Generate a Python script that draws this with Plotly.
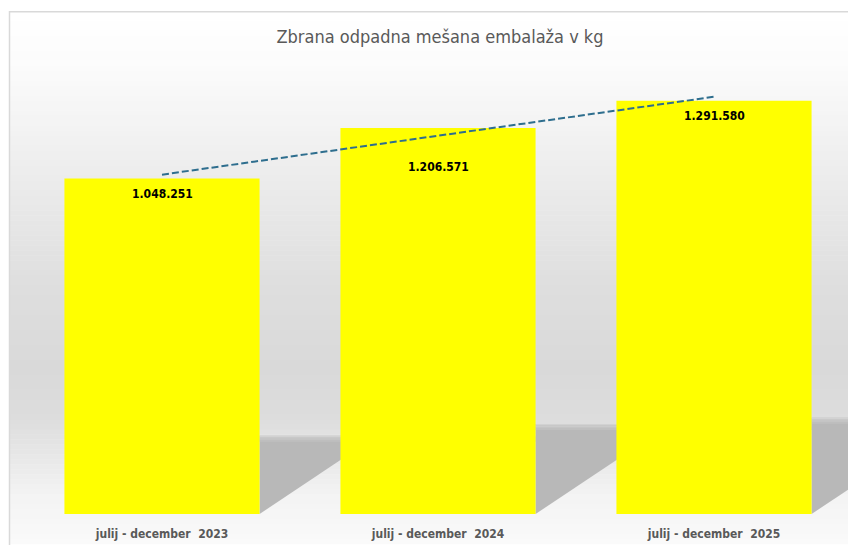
import numpy as np
import plotly.graph_objects as go

# ---- data ----
categories = ["julij - december\u00a0\u00a02023", "julij - december\u00a0\u00a02024", "julij - december\u00a0\u00a02025"]
values = [1048251, 1206571, 1291580]
title_text = "Zbrana odpadna mešana embalaža v kg"
label_shift_px = [-15, -39, -15]  # label offsets below bar tops (styling)

x_pos = np.arange(1, len(values) + 1)
slope, intercept = np.polyfit(x_pos, values, 1)
trend_x = [x_pos[0], x_pos[-1]]
trend_y = [slope * x + intercept for x in trend_x]

OFF = 8  # page body margin
W, H = 856 - OFF, 545 - OFF
ml, mr, mt, mb = 24 - OFF, 4, 66 - OFF, 29
plot_h = H - mt - mb
y_max = 1400000
FONT = "DejaVu Sans Condensed, Roboto, sans-serif"

fig = go.Figure()

fig.add_trace(go.Bar(
    x=x_pos, y=values,
    marker=dict(color="#FFFF00", line=dict(width=0)),
    hoverinfo="skip",
))

fig.add_trace(go.Scatter(
    x=trend_x, y=trend_y, mode="lines",
    line=dict(color="#2E6E8E", width=2, dash="7px,3px"),
    hoverinfo="skip",
))

annotations = []
for xc, v, s in zip(x_pos, values, label_shift_px):
    annotations.append(dict(x=xc, y=v, xref="x", yref="y", yshift=s, showarrow=False,
                            text=f"{v:,}".replace(",", "."), yanchor="middle",
                            font=dict(family=FONT, size=12, color="#000000", weight="bold")))

shapes = []
# background gradient (decorative)
stops = [(11, 255), (60, 252), (120, 244), (200, 233), (290, 222), (370, 217), (420, 221), (460, 232), (500, 244), (545, 250)]
def grey_at(y):
    for (y0, g0), (y1, g1) in zip(stops[:-1], stops[1:]):
        if y0 <= y <= y1:
            t = (y - y0) / (y1 - y0)
            return g0 + (g1 - g0) * t
    return stops[-1][1]

def py_to_paper(py):
    return (H - mb - (py - OFF)) / plot_h

def px_to_paper(px):
    return (px - OFF - ml) / (W - ml - mr)

step = 5
for y in range(11, 545, step):
    g = int(round(grey_at(y + step / 2)))
    shapes.append(dict(type="rect", xref="paper", yref="paper",
                       x0=px_to_paper(10), x1=px_to_paper(900),
                       y0=py_to_paper(y + step + 0.5), y1=py_to_paper(y),
                       fillcolor=f"rgb({g},{g},{g})", line=dict(width=0), layer="below"))

# floor shadows of bars (decorative, derived from values)
bar_w = 0.707
px_per_cat = (W - ml - mr) / 3.0
px_per_val = plot_h / y_max
edge_greys = ["#D2D2D2", "#CBCBCB", "#C4C4C4", "#BFBFBF"]
for xc, v in zip(x_pos, values):
    h = 0.233 * v
    xr = xc + bar_w / 2
    dx = (h * px_per_val / 0.67) / px_per_cat
    shapes.append(dict(type="path", xref="x", yref="y",
                       path=f"M {xr},0 L {xr},{h} L {xr + dx},{h} Z",
                       fillcolor="#B8B8B8", line=dict(width=0), layer="below"))
    step_v = 1.5 / px_per_val
    for i, c in enumerate(edge_greys):
        shapes.append(dict(type="rect", xref="x", yref="y",
                           x0=xr, x1=xr + 1.0, y0=h - (i + 1) * step_v, y1=h - i * step_v,
                           fillcolor=c, line=dict(width=0), layer="below"))

# chart border (cropped at right/bottom)
shapes.append(dict(type="rect", xref="paper", yref="paper",
                   x0=px_to_paper(9.5), x1=px_to_paper(900),
                   y0=py_to_paper(600), y1=py_to_paper(11.5),
                   fillcolor="rgba(0,0,0,0)", line=dict(color="#D9D9D9", width=1.5)))

fig.update_layout(
    width=W, height=H,
    margin=dict(l=ml, r=mr, t=mt, b=mb),
    paper_bgcolor="#FFFFFF", plot_bgcolor="rgba(0,0,0,0)",
    showlegend=False,
    bargap=1 - bar_w,
    shapes=shapes,
    annotations=annotations,
    title=dict(text=title_text, x=(440 - OFF) / W, xanchor="center", y=1 - (37 - OFF) / H, yanchor="middle",
               font=dict(family=FONT, size=18, color="#595959")),
    xaxis=dict(range=[0.5, 3.5], tickmode="array", tickvals=list(x_pos), ticktext=categories,
               showgrid=False, zeroline=False, showline=False, ticks="",
               tickfont=dict(family=FONT, size=12, color="#595959", weight="bold"),
               ticklabelstandoff=11, fixedrange=True),
    yaxis=dict(range=[0, y_max], visible=False, showgrid=False, zeroline=False, fixedrange=True),
)

fig.write_html("out.html")
